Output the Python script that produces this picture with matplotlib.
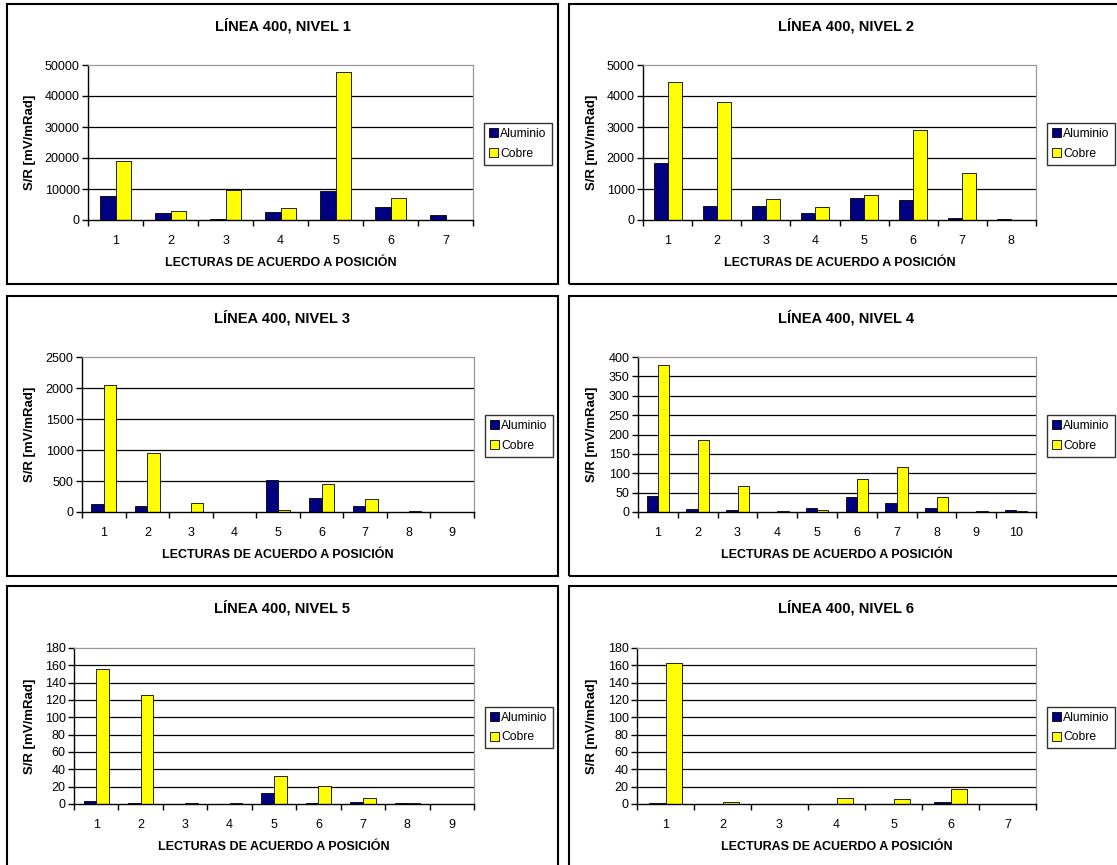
import numpy as np
import matplotlib.pyplot as plt
from matplotlib.patches import Rectangle, Patch

plt.rcParams['font.family'] = ['Liberation Sans', 'DejaVu Sans']

W, H = 1117, 865

# datos (S/R en mV/mRad)
titulos = ["LÍNEA 400, NIVEL 1", "LÍNEA 400, NIVEL 2", "LÍNEA 400, NIVEL 3",
           "LÍNEA 400, NIVEL 4", "LÍNEA 400, NIVEL 5", "LÍNEA 400, NIVEL 6"]

aluminio_n1 = [7900, 2400, 300, 2700, 9500, 4300, 1600]
cobre_n1 = [19150, 2900, 9700, 3900, 47600, 7100, 0]

aluminio_n2 = [1850, 450, 450, 240, 710, 650, 55, 30]
cobre_n2 = [4450, 3800, 680, 420, 800, 2890, 1515, 0]

aluminio_n3 = [130, 103, 0, 0, 518, 232, 103, 0, 0]
cobre_n3 = [2046, 945, 146, 0, 38, 459, 210, 12, 0]

aluminio_n4 = [41, 8, 5, 0, 10, 38, 23, 10, 0, 5]
cobre_n4 = [379, 187, 67, 3, 5, 86, 115, 39, 3, 3]

aluminio_n5 = [3, 1, 0, 0, 12.5, 1, 2, 1, 0]
cobre_n5 = [155.5, 126, 1, 1, 32, 21, 7, 1, 0]

aluminio_n6 = [1, 0, 0, 0, 0, 2, 0]
cobre_n6 = [162.5, 2, 0, 7, 6, 17.5, 0]

ymax = [50000, 5000, 2500, 400, 180, 180]
ypaso = [10000, 1000, 500, 50, 20, 20]

series = [(aluminio_n1, cobre_n1), (aluminio_n2, cobre_n2), (aluminio_n3, cobre_n3),
          (aluminio_n4, cobre_n4), (aluminio_n5, cobre_n5), (aluminio_n6, cobre_n6)]

# posiciones en pixeles: (x0, x1) del area de trazado por panel
plot_x = [(88, 473), (643, 1036), (82, 474), (638, 1036), (74, 474), (637, 1036)]
plot_y = [(65, 220), (357, 512), (648, 804)]
borde_x = [(7, 558), (569, 1123)]
borde_y = [(4, 284), (296, 576), (586, 880)]

AZUL = '#000080'
AMARILLO = '#FFFF00'

fig = plt.figure(figsize=(W / 100, H / 100), dpi=100)


def px(x0, y0, x1, y1):
    return [x0 / W, 1 - y1 / H, (x1 - x0) / W, (y1 - y0) / H]


for i in range(6):
    fila, col = i // 2, i % 2
    x0, x1 = plot_x[i]
    y0, y1 = plot_y[fila]
    bx0, bx1 = borde_x[col]
    by0, by1 = borde_y[fila]

    # marco del grafico
    fig.patches.append(Rectangle((bx0 / W, 1 - by1 / H), (bx1 - bx0) / W, (by1 - by0) / H,
                                 transform=fig.transFigure, fill=False,
                                 edgecolor='black', linewidth=1.5, zorder=0))

    ax = fig.add_axes(px(x0, y0, x1, y1))
    al, cu = series[i]
    n = len(al)
    pos = np.arange(1, n + 1)
    w = 0.285
    ax.bar(pos - w / 2, al, w, color=AZUL, edgecolor='black', linewidth=0.6, zorder=3,
           label='Aluminio')
    ax.bar(pos + w / 2, cu, w, color=AMARILLO, edgecolor='black', linewidth=0.6, zorder=3,
           label='Cobre')

    ax.set_xlim(0.5, n + 0.5)
    ax.set_ylim(0, ymax[i])
    ax.set_yticks(np.arange(0, ymax[i] + ypaso[i] / 2, ypaso[i]))
    ax.set_yticklabels([f"{int(v)}" for v in ax.get_yticks()])
    ax.set_xticks(pos)
    ax.set_xticklabels([str(p) for p in pos])
    ax.set_xticks(np.arange(0.5, n + 1), minor=True)
    ax.tick_params(axis='x', which='major', length=0, pad=11, labelsize=9)
    ax.tick_params(axis='x', which='minor', length=4, direction='out', width=1)
    ax.tick_params(axis='y', length=4, direction='out', width=1, labelsize=9, pad=2)

    for yv in ax.get_yticks()[1:-1]:
        ax.axhline(yv, color='black', linewidth=0.9, zorder=1)

    ax.spines['left'].set_color('black')
    ax.spines['bottom'].set_color('black')
    ax.spines['left'].set_linewidth(1)
    ax.spines['bottom'].set_linewidth(1)
    ax.spines['bottom'].set_zorder(4)
    ax.spines['top'].set_color('#999999')
    ax.spines['right'].set_color('#999999')
    ax.spines['top'].set_linewidth(0.9)
    ax.spines['right'].set_linewidth(0.9)

    xc = (bx0 + bx1) / 2
    fig.text(xc / W, 1 - (by0 + 22) / H, titulos[i], ha='center', va='center',
             fontsize=10.5, fontweight='bold')
    fig.text((x0 + x1) / 2 / W, 1 - (y1 + 43) / H, "LECTURAS DE ACUERDO A POSICIÓN",
             ha='center', va='center', fontsize=9, fontweight='bold')
    fig.text((bx0 + 23) / W, 1 - (y0 + y1) / 2 / H, "S/R [mV/mRad]", rotation=90,
             ha='center', va='center', fontsize=9.5, fontweight='bold')

    manejadores = [Patch(facecolor=AZUL, edgecolor='black', linewidth=0.6, label='Aluminio'),
                   Patch(facecolor=AMARILLO, edgecolor='black', linewidth=0.6, label='Cobre')]
    ley = ax.legend(handles=manejadores, loc='center left',
                    bbox_to_anchor=((x1 + 11) / W, 1 - (y0 + y1 + 3) / 2 / H),
                    bbox_transform=fig.transFigure, fontsize=8.7, frameon=True,
                    fancybox=False, edgecolor='black', handlelength=0.75, handleheight=0.75,
                    handletextpad=0.2, borderpad=0.4, labelspacing=0.65, borderaxespad=0)
    ley.get_frame().set_linewidth(1)

fig.savefig('out.png', dpi=100)
